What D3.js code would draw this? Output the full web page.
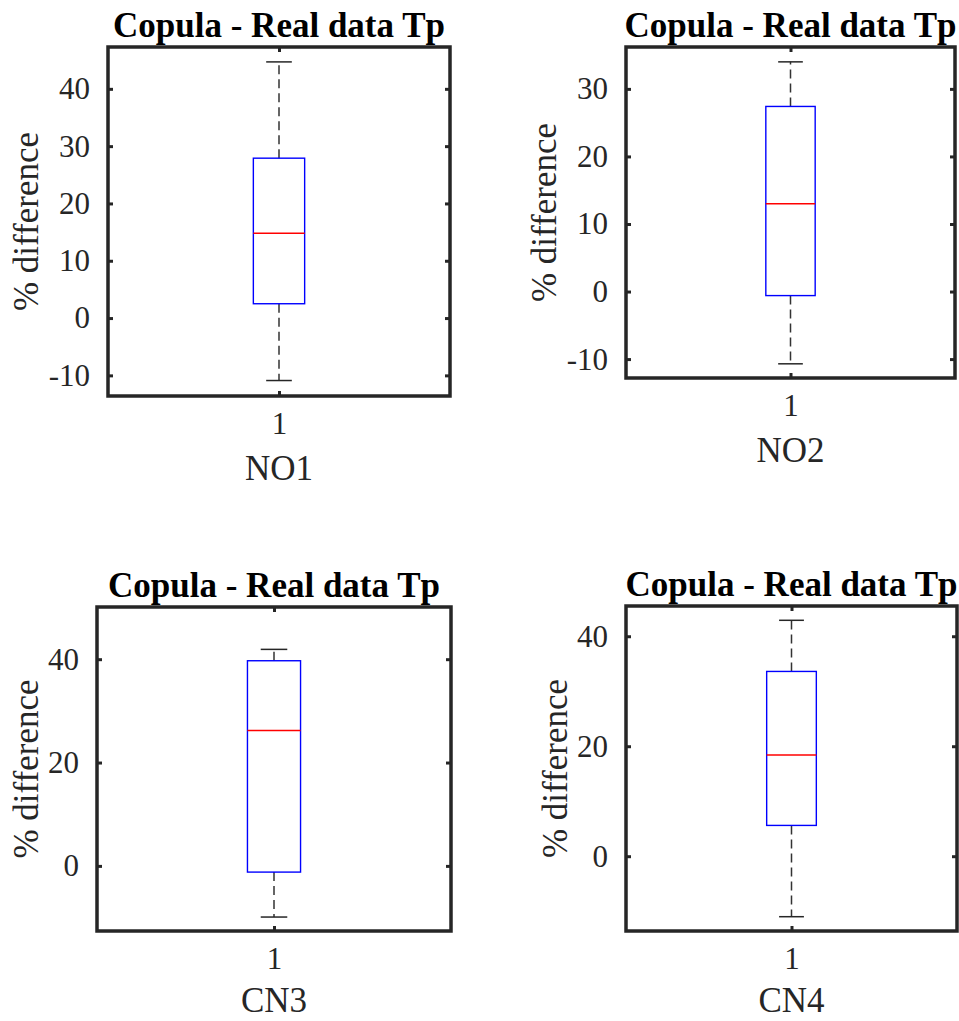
<!DOCTYPE html>
<html>
<head>
<meta charset="utf-8">
<script src="https://cdn.jsdelivr.net/npm/d3@7"></script>
<style>
  html, body { margin: 0; padding: 0; background: #fff; }
  svg { display: block; }
  text { font-family: "Liberation Serif", "Times New Roman", serif; fill: #262626; }
</style>
</head>
<body>
<svg id="chart" width="959" height="1021"></svg>
<script>
// Box-plot summary per region (% difference, Copula vs real data Tp)
const regions  = ["NO1", "NO2", "CN3", "CN4"];
const whiskLo  = [-10.9, -10.7, -9.9, -11.0];
const q1       = [2.5,   -0.6,  -1.2,  5.6];
const median   = [14.8,  13.0,  26.2, 18.4];
const q3       = [27.9,  27.4,  39.7, 33.6];
const whiskHi  = [44.7,  34.0,  41.9, 42.9];

// Axis limits and tick labels per panel
const yMin   = [-13.6, -12.8, -12.6, -13.6];
const yMax   = [47.3,  36.2,  50.1,  45.5];
const yTicks = [
  [-10, 0, 10, 20, 30, 40],
  [-10, 0, 10, 20, 30],
  [0, 20, 40],
  [0, 20, 40]
];
const xTicks = [1];
const title = "Copula - Real data Tp";
const yLabel = "% difference";

// Panel frames in pixels
const frames = [
  { x0: 108, x1: 450, y0: 47,  y1: 396, labelGap: 70, xLabelGap: 84 },
  { x0: 626, x1: 955, y0: 47,  y1: 378, labelGap: 70, xLabelGap: 84 },
  { x0: 97,  x1: 451, y0: 607, y1: 931, labelGap: 59, xLabelGap: 81 },
  { x0: 626, x1: 957, y0: 606, y1: 931, labelGap: 59, xLabelGap: 81 }
];

const svg = d3.select("#chart");
const axisColor = "#262626";
const boxWidth = 0.15;   // in x-data units
const capWidth = 0.075;
const plainNum = d => String(d);   // hyphen-minus, not U+2212

regions.forEach((name, i) => {
  const f = frames[i];
  const x = d3.scaleLinear().domain([0.5, 1.5]).range([f.x0, f.x1]);
  const y = d3.scaleLinear().domain([yMin[i], yMax[i]]).range([f.y1, f.y0]);
  const g = svg.append("g");

  // whiskers (dashed)
  g.append("line")
    .attr("x1", x(1)).attr("x2", x(1))
    .attr("y1", y(q3[i])).attr("y2", y(whiskHi[i]))
    .attr("stroke", "#333").attr("stroke-width", 1.5)
    .attr("stroke-dasharray", "9,5");
  g.append("line")
    .attr("x1", x(1)).attr("x2", x(1))
    .attr("y1", y(q1[i])).attr("y2", y(whiskLo[i]))
    .attr("stroke", "#333").attr("stroke-width", 1.5)
    .attr("stroke-dasharray", "9,5");

  // whisker caps
  [whiskHi[i], whiskLo[i]].forEach(v => {
    g.append("line")
      .attr("x1", x(1 - capWidth / 2)).attr("x2", x(1 + capWidth / 2))
      .attr("y1", y(v)).attr("y2", y(v))
      .attr("stroke", "#262626").attr("stroke-width", 1.5);
  });

  // box
  g.append("rect")
    .attr("x", x(1 - boxWidth / 2))
    .attr("y", y(q3[i]))
    .attr("width", x(1 + boxWidth / 2) - x(1 - boxWidth / 2))
    .attr("height", y(q1[i]) - y(q3[i]))
    .attr("fill", "none")
    .attr("stroke", "#0000ff").attr("stroke-width", 1.4);

  // median
  g.append("line")
    .attr("x1", x(1 - boxWidth / 2)).attr("x2", x(1 + boxWidth / 2))
    .attr("y1", y(median[i])).attr("y2", y(median[i]))
    .attr("stroke", "#ff0000").attr("stroke-width", 1.4);

  // axes: ticks point inward, labels on left and bottom only
  const styleAxis = sel => {
    sel.select(".domain").remove();
    sel.selectAll(".tick line").attr("stroke", axisColor).attr("stroke-width", 3);
  };
  const styleLabels = sel => sel.selectAll(".tick text")
    .attr("font-size", 31).attr("fill", axisColor);

  g.append("g").attr("transform", `translate(${f.x0},0)`)
    .call(d3.axisLeft(y).tickValues(yTicks[i]).tickSize(-5).tickPadding(18).tickFormat(plainNum))
    .call(styleAxis).call(styleLabels);

  g.append("g").attr("transform", `translate(${f.x1},0)`)
    .call(d3.axisRight(y).tickValues(yTicks[i]).tickSize(-5).tickFormat(""))
    .call(styleAxis);

  g.append("g").attr("transform", `translate(0,${f.y1})`)
    .call(d3.axisBottom(x).tickValues(xTicks).tickSize(-5).tickPadding(16).tickFormat(plainNum))
    .call(styleAxis).call(styleLabels);

  g.append("g").attr("transform", `translate(0,${f.y0})`)
    .call(d3.axisTop(x).tickValues(xTicks).tickSize(-5).tickFormat(""))
    .call(styleAxis);

  // frame
  g.append("rect")
    .attr("x", f.x0).attr("y", f.y0)
    .attr("width", f.x1 - f.x0).attr("height", f.y1 - f.y0)
    .attr("fill", "none").attr("stroke", axisColor).attr("stroke-width", 3.5);

  // title
  g.append("text")
    .attr("x", x(1)).attr("y", f.y0 - 10)
    .attr("text-anchor", "middle")
    .attr("font-size", 35).attr("font-weight", "bold")
    .style("fill", "#000")
    .text(title);

  // x label
  g.append("text")
    .attr("x", x(1)).attr("y", f.y1 + f.xLabelGap)
    .attr("text-anchor", "middle")
    .attr("font-size", 35)
    .text(name);

  // y label
  const ly = (f.y0 + f.y1) / 2;
  const lx = f.x0 - f.labelGap;
  g.append("text")
    .attr("transform", `translate(${lx},${ly}) rotate(-90)`)
    .attr("text-anchor", "middle")
    .attr("font-size", 35)
    .text(yLabel);
});
</script>
</body>
</html>
